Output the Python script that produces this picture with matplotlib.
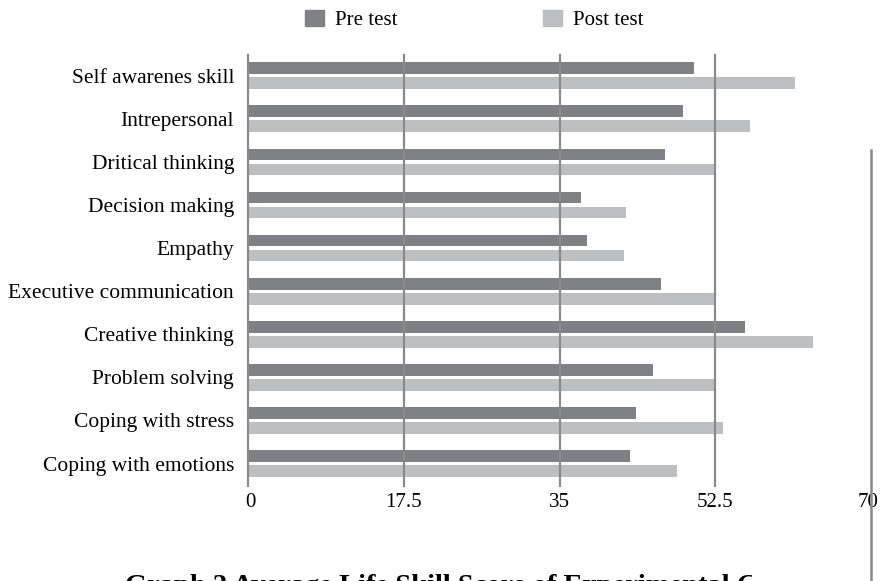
import matplotlib
matplotlib.use("Agg")
import matplotlib.pyplot as plt
from matplotlib.patches import Patch
from matplotlib.lines import Line2D
from matplotlib.transforms import Bbox, ScaledTranslation
import numpy as np

categories = ["Self awarenes skill", "Intrepersonal", "Dritical thinking", "Decision making",
              "Empathy", "Executive communication", "Creative thinking", "Problem solving",
              "Coping with stress", "Coping with emotions"]
pre_test = [50.1, 48.9, 46.8, 37.4, 38.1, 46.4, 55.8, 45.5, 43.6, 42.9]
post_test = [61.5, 56.4, 52.5, 42.5, 42.2, 52.5, 63.5, 52.5, 53.4, 48.2]
x_ticks = [0, 17.5, 35, 52.5, 70]
x_tick_labels = ["0", "17.5", "35", "52.5", "70"]
series_names = ["Pre test", "Post test"]
title = "Graph 2 Average Life Skill Score of Experimental Group"

plt.rcParams['font.family'] = ['Liberation Serif', 'DejaVu Serif']

W, H = 883, 581
fig = plt.figure(figsize=(W / 100, H / 100), dpi=100)
ax = fig.add_axes([248 / W, (H - 486) / H, (871 - 248) / W, (486 - 55) / H])

dark = "#808184"
light = "#bebfc1"
grid_c = "#8a8a8c"
y = np.arange(len(categories))
off = 0.174
h = 0.27
ax.barh(y - off, pre_test, height=h, color=dark, zorder=2, label=series_names[0])
ax.barh(y + off, post_test, height=h, color=light, zorder=2, label=series_names[1])

ax.set_xlim(0, 70)
ax.set_ylim(9.52, -0.48)
ax.set_yticks(y)
ax.set_yticklabels(categories, fontsize=15.5)
ax.set_xticks(x_ticks)
ax.set_xticklabels(x_tick_labels, fontsize=15)
ax.tick_params(axis='both', length=0)
ax.tick_params(axis='y', pad=10)
ax.tick_params(axis='x', pad=5)
xl = ax.get_xticklabels()
xl[-1].set_transform(xl[-1].get_transform() + ScaledTranslation(-3 / 100, 0, fig.dpi_scale_trans))
xl[0].set_transform(xl[0].get_transform() + ScaledTranslation(2 / 100, 0, fig.dpi_scale_trans))
for s in ax.spines.values():
    s.set_visible(False)
for xv in x_ticks[:-1]:
    ax.axvline(xv, color=grid_c, lw=1.6, zorder=3, clip_on=False)

handles = [Patch(color=dark), Patch(color=light)]
leg = fig.legend(handles, series_names, loc="center left", bbox_to_anchor=(305 / W, 1 - 20 / H),
                 ncol=2, frameon=False, fontsize=15, handlelength=0.91, handleheight=0.82,
                 columnspacing=7.0, handletextpad=0.53, borderpad=0, borderaxespad=0)

# stray vertical rule on the right
fig.add_artist(Line2D([871 / W, 871 / W], [0, 1 - 150 / H], transform=fig.transFigure,
                      color=grid_c, lw=1.8))

t = fig.text(125 / W, -12 / H, title, fontsize=20.5, fontweight="bold", ha="left", va="baseline")
t.set_clip_box(Bbox.from_extents(0, 0, 752, H))
t.set_clip_on(True)

fig.savefig("out.png", dpi=100)
